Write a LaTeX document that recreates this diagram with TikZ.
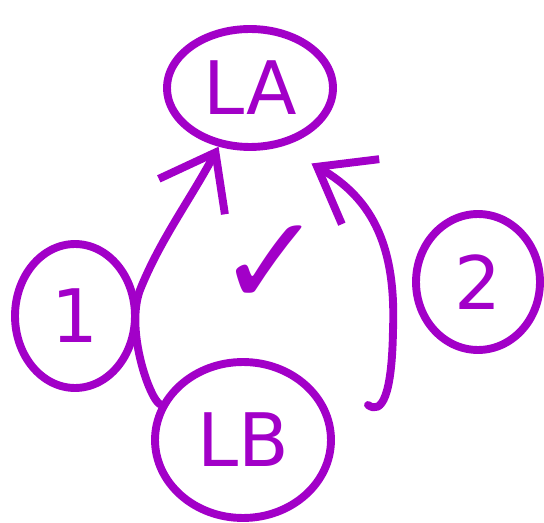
\documentclass[tikz,border=0pt]{standalone}
\usepackage{fontspec}
\setmainfont{DejaVu Sans}
\usetikzlibrary{positioning,arrows.meta,shapes.geometric}
\definecolor{pen}{RGB}{162,0,200}

\begin{document}
\begin{tikzpicture}[
    x=0.02cm, y=-0.02cm,
    pen/.style={
        draw=pen,
        line width=4.5pt,
        line cap=round,
        line join=round
    },
    bubble/.style={
        pen,
        ellipse,
        inner sep=0pt,
        text=pen,
        font=\fontsize{42}{50}\selectfont
    },
    arrow/.style={pen, -{Straight Barb[length=1cm,width=1.5cm]}}
]
\useasboundingbox (0,0) rectangle (544,523);

\node[bubble, minimum width=3.32cm, minimum height=2.36cm] (la) at (250,88) {LA};
\node[bubble, minimum width=3.52cm, minimum height=3.12cm] (lb) at (243,440) {LB};
\node[bubble, minimum width=2.40cm, minimum height=2.88cm] (one) at (75,316) {1};
\node[bubble, minimum width=2.48cm, minimum height=2.72cm] (two) at (478,282) {2};

\node[text=pen, font=\fontsize{72}{80}\selectfont] (tick) at (270,266) {✓};

\coordinate (hook) at (368,405);

\draw[arrow] (lb) .. controls (150,400) and (125,330) .. (140,290)
    .. controls (160,240) and (190,200) .. (la);
\draw[arrow] (hook) .. controls (382,415) and (392,395) .. (393,330)
    .. controls (396,250) and (375,200) .. ([yshift=-0.62cm]la.south east);

\end{tikzpicture}
\end{document}
